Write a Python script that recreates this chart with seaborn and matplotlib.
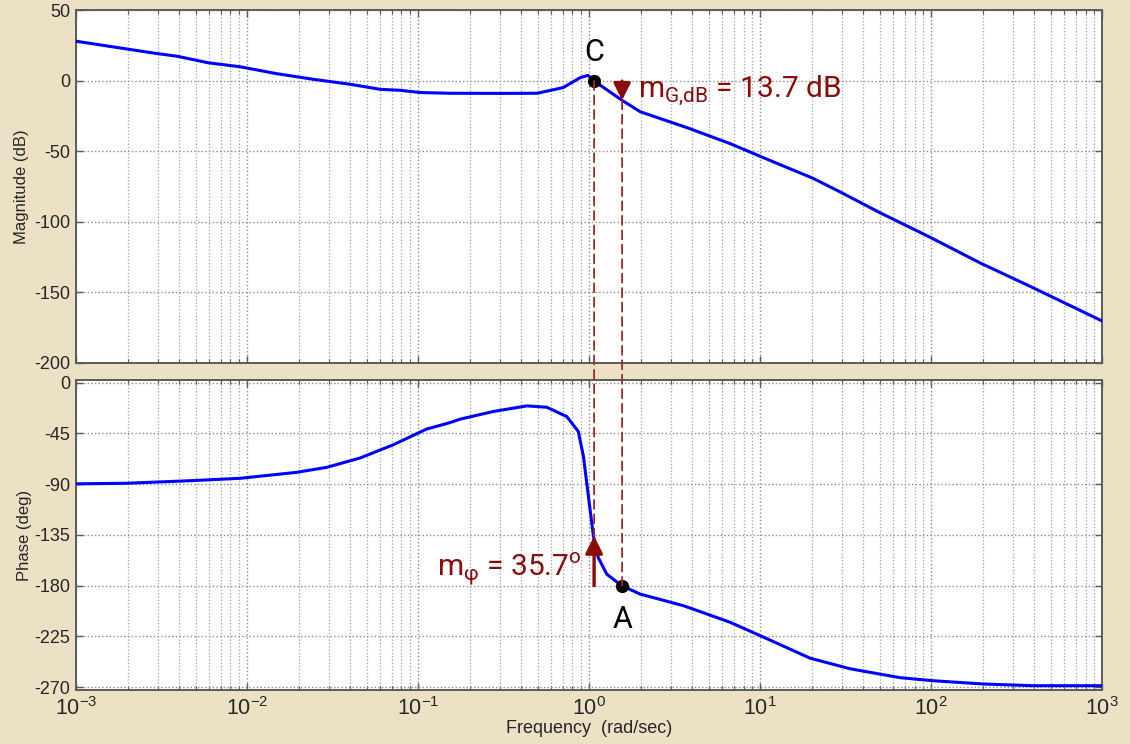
import numpy as np
import pandas as pd
import matplotlib
matplotlib.use("Agg")
import matplotlib.pyplot as plt
from matplotlib.patches import ConnectionPatch
from matplotlib.ticker import LogLocator, NullFormatter, FixedLocator
import seaborn as sns

# ---------------- data ----------------
mag_freq = [0.001, 0.00198, 0.00296, 0.00388, 0.00594, 0.0091, 0.0149, 0.0244,
            0.04, 0.06, 0.0785, 0.103, 0.154, 0.302, 0.497, 0.705, 0.885, 0.986,
            1.07, 1.56, 1.99, 3.74, 6.68, 11.4, 20.4, 29.4, 50.4, 98.6, 194,
            379, 1000]
mag_db = [28.2, 22.7, 19.5, 17.6, 12.9, 10.1, 5.2, 1.2,
          -2.3, -5.9, -6.6, -8.2, -8.7, -8.8, -8.7, -4.7, 2.3, 4.0,
          0.0, -13.7, -21.8, -33.1, -44.4, -56.3, -69.0, -78.7, -93.5, -110.8, -129.1,
          -145.6, -170.2]

ph_freq = [0.001, 0.00198, 0.00485, 0.0091, 0.0195, 0.0292, 0.0458, 0.0718,
           0.112, 0.154, 0.176, 0.275, 0.433, 0.566, 0.741, 0.865, 0.927,
           0.991, 1.06, 1.13, 1.27, 1.55, 1.99, 3.56, 4.46, 6.68, 10.0,
           19.6, 33.6, 65.9, 103, 202, 396, 1000]
ph_deg = [-89.8, -89.3, -86.9, -84.9, -79.6, -75.2, -66.9, -55.1,
          -41.3, -35.5, -32.5, -25.7, -20.7, -21.9, -30.2, -43.4, -65.5,
          -100.7, -136.0, -155.0, -169.9, -180.0, -187.5, -197.8, -203.0, -212.5, -224.3,
          -244.3, -253.7, -261.6, -264.3, -267.2, -268.7, -268.7]

x_ticks = [1e-3, 1e-2, 1e-1, 1e0, 1e1, 1e2, 1e3]
x_ticklabels = [r'$\mathregular{10^{-3}}$', r'$\mathregular{10^{-2}}$', r'$\mathregular{10^{-1}}$',
                r'$\mathregular{10^{0}}$', r'$\mathregular{10^{1}}$', r'$\mathregular{10^{2}}$',
                r'$\mathregular{10^{3}}$']
mag_ticks = [50, 0, -50, -100, -150, -200]
ph_ticks = [0, -45, -90, -135, -180, -225, -270]

# annotation values
w_gain_cross = 1.07      # point C
w_phase_cross = 1.56     # point A
gain_margin_db = 13.7
phase_at_c = -136.0
phase_margin_txt = r'm$_{\mathregular{\varphi}}$ = 35.7$^{\mathregular{o}}$'
gain_margin_txt = r'm$_{\mathregular{G{,}dB}}$ = 13.7 dB'

# ---------------- style ----------------
sns.set_style("ticks")
plt.rcParams['font.family'] = ['Liberation Sans', 'DejaVu Sans']
plt.rcParams['mathtext.fontset'] = 'dejavusans'

BG = '#ECE1C5'
BLUE = '#0000FF'
DRED = '#8B0A0A'
DASH = '#9B2A2A'
SPINE = '#5a5a5a'

fig = plt.figure(figsize=(11.30, 7.44), dpi=100, facecolor=BG)
ax1 = fig.add_axes([0.0673, 0.5121, 0.9080, 0.4738])
ax2 = fig.add_axes([0.0673, 0.0726, 0.9080, 0.4166])

mag_df = pd.DataFrame({'freq': mag_freq, 'mag': mag_db})
ph_df = pd.DataFrame({'freq': ph_freq, 'phase': ph_deg})

for ax in (ax1, ax2):
    ax.set_facecolor('white')
    ax.set_xscale('log')

sns.lineplot(data=mag_df, x='freq', y='mag', ax=ax1, color=BLUE, lw=2.2, sort=False, zorder=4)
sns.lineplot(data=ph_df, x='freq', y='phase', ax=ax2, color=BLUE, lw=2.2, sort=False, zorder=4)

for ax in (ax1, ax2):
    ax.set_xlim(1e-3, 1e3)
    ax.xaxis.set_major_locator(FixedLocator(x_ticks))
    ax.xaxis.set_minor_locator(LogLocator(base=10, subs=np.arange(2, 10), numticks=50))
    ax.xaxis.set_minor_formatter(NullFormatter())
    ax.grid(True, which='major', axis='both', color='#8c8c8c', linestyle=':', lw=1.0)
    ax.grid(True, which='minor', axis='x', color='#a0a0a0', linestyle=':', lw=0.9)
    ax.tick_params(which='both', direction='in', top=True, right=True, color=SPINE)
    ax.tick_params(which='major', length=5, width=1.0)
    ax.tick_params(which='minor', length=3, width=0.8)
    ax.tick_params(axis='y', labelsize=13, pad=4)
    for s in ax.spines.values():
        s.set_color(SPINE)
        s.set_linewidth(1.4)
    ax.set_axisbelow(True)

ax1.set_ylim(-200, 50)
ax1.set_yticks(mag_ticks)
ax1.set_yticklabels([str(t) for t in mag_ticks])
ax1.set_xticks(x_ticks)
ax1.tick_params(axis='x', labelbottom=False)
ax1.set_xlabel('')
ax1.set_ylabel('Magnitude (dB)', fontsize=12, labelpad=4)

ax2.set_ylim(-272.5, 2.2)
ax2.set_yticks(ph_ticks)
ax2.set_yticklabels([str(t) for t in ph_ticks])
ax2.set_xticks(x_ticks)
ax2.set_xticklabels(x_ticklabels)
ax2.tick_params(axis='x', labelsize=15.5, pad=5)
ax2.set_xlabel('Frequency  (rad/sec)', fontsize=13, labelpad=0)
ax2.set_ylabel('Phase (deg)', fontsize=12, labelpad=2)

# dashed construction lines spanning both axes
for (w, ya, yb) in [(w_gain_cross, 0.0, phase_at_c), (w_phase_cross, -gain_margin_db, -180.0)]:
    con = ConnectionPatch(xyA=(w, ya), coordsA=ax1.transData,
                          xyB=(w, yb), coordsB=ax2.transData,
                          color=DASH, lw=1.3, linestyle=(0, (5, 3)), zorder=3)
    fig.add_artist(con)

# gain margin arrow
ax1.annotate('', xy=(w_phase_cross, -gain_margin_db), xytext=(w_phase_cross, 0),
             arrowprops=dict(arrowstyle='-|>', color=DRED, lw=2.2, mutation_scale=26,
                             shrinkA=0, shrinkB=0), zorder=6)
# phase margin arrow
ax2.annotate('', xy=(w_gain_cross, phase_at_c), xytext=(w_gain_cross, -180),
             arrowprops=dict(arrowstyle='-|>', color=DRED, lw=2.4, mutation_scale=26,
                             shrinkA=0, shrinkB=0), zorder=6)

# points
ax1.plot([w_gain_cross], [0], 'o', color='black', ms=8.5, zorder=7)
ax2.plot([w_phase_cross], [-180], 'o', color='black', ms=8.5, zorder=7)

ax1.text(w_gain_cross, 14, 'C', ha='center', va='baseline', fontsize=22,
         family=['Roboto', 'DejaVu Sans'], color='black')
ax2.text(w_phase_cross, -217.5, 'A', ha='center', va='baseline', fontsize=22,
         family=['Roboto', 'DejaVu Sans'], color='black')

ax1.text(1.94, -11.4, gain_margin_txt, ha='left', va='baseline', fontsize=21.5,
         family=['Roboto', 'DejaVu Sans'], color=DRED)
ax2.text(0.905, -171.3, phase_margin_txt, ha='right', va='baseline', fontsize=21.5,
         family=['Roboto', 'DejaVu Sans'], color=DRED)

fig.savefig('out.png', dpi=100, facecolor=BG)
